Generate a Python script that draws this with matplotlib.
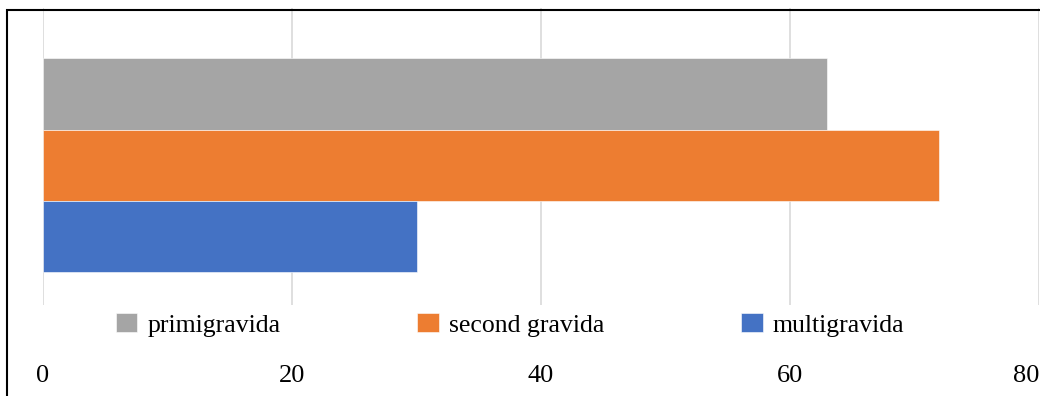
import matplotlib.pyplot as plt
from matplotlib.patches import Rectangle

# data
series = ["primigravida", "second gravida", "multigravida"]
values = [63, 72, 30]
colors = ["#A5A5A5", "#ED7D31", "#4472C4"]
xticks = [0, 20, 40, 60, 80]

W, H = 1040, 396
fig = plt.figure(figsize=(W / 100, H / 100), dpi=100)
plt.rcParams['font.family'] = ['Liberation Serif', 'DejaVu Serif']

# axes placed in pixel terms
left, right, top, bottom = 43, 1039, 8, 305
ax = fig.add_axes([left / W, 1 - bottom / H, (right - left) / W, (bottom - top) / H])

h = 0.24
ypos = [h, 0, -h]
bars = []
for name, v, c, y in zip(series, values, colors, ypos):
    b = ax.barh(y, v, height=h, color=c, edgecolor="white", linewidth=0.4, label=name, zorder=3)
    bars.append(b)

ax.set_xlim(0, 80)
ax.set_ylim(-0.47, 0.53)
ax.set_xticks(xticks)
ax.set_xticklabels([str(t) for t in xticks], fontsize=19)
ax.set_yticks([])
ax.tick_params(axis="x", length=0, pad=43)
ax.xaxis.grid(True, color="#D9D9D9", linewidth=1.2, zorder=0)
for s in ax.spines.values():
    s.set_visible(False)
ax.get_xticklabels()[-1].set_ha("right")

fig.legend(handles=bars, labels=series, loc="center", ncol=3,
           bbox_to_anchor=(510 / W, 1 - 325 / H), frameon=False,
           fontsize=18.5, handlelength=0.85, handleheight=0.72,
           handletextpad=0.4, columnspacing=5.3)

# outer border
fig.patches.append(Rectangle((7 / W, -0.05), 1.1, 1.05 - 10 / H,
                             transform=fig.transFigure, fill=False,
                             edgecolor="black", linewidth=1.5))

fig.savefig("out.png", dpi=100)
